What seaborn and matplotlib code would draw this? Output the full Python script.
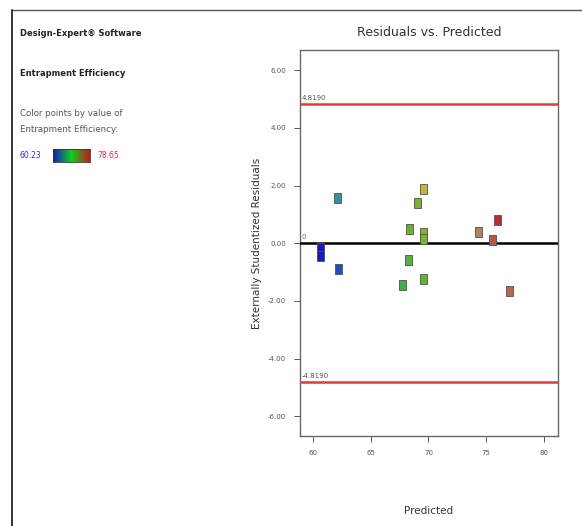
import numpy as np
import pandas as pd
import matplotlib
matplotlib.use("Agg")
import matplotlib.pyplot as plt
import seaborn as sns
from matplotlib.colors import LinearSegmentedColormap, Normalize
from matplotlib.lines import Line2D
from matplotlib.path import Path

# values
predicted = [60.63, 60.63, 62.10, 62.23, 67.74, 68.30, 68.37, 69.04,
             69.60, 69.60, 69.60, 69.60, 74.30, 75.56, 75.94, 77.00]
residuals = [-0.15, -0.45, 1.58, -0.88, -1.44, -0.59, 0.51, 1.38,
             1.88, 0.35, 0.15, -1.23, 0.39, 0.10, 0.80, -1.66]
actual = [60.30, 60.23, 63.60, 61.60, 66.80, 67.80, 68.60, 69.40,
          72.00, 69.80, 69.60, 68.40, 75.00, 76.80, 78.65, 76.20]
limit = 4.8190
eff_min, eff_max = 60.23, 78.65
x_ticks = [60, 65, 70, 75, 80]
y_ticks = [-6, -4, -2, 0, 2, 4, 6]

df = pd.DataFrame({"Predicted": predicted, "Residual": residuals, "Actual": actual})

sns.set_style("white")
plt.rcParams['font.family'] = ['DejaVu Sans']

cmap = LinearSegmentedColormap.from_list(
    "de", ["#1818c0", "#3a8ab8", "#38b048", "#7cb030", "#c8b848", "#b07858", "#c02a2a"])
norm = Normalize(eff_min, eff_max)

# tall rectangle marker like Design-Expert
rect = Path([(-0.7, -1), (0.7, -1), (0.7, 1), (-0.7, 1), (-0.7, -1)], closed=True)

fig = plt.figure(figsize=(5.82, 5.26), dpi=100)
ax = fig.add_axes([0.5155, 0.1711, 0.4433, 0.7338])

sns.scatterplot(data=df, x="Predicted", y="Residual", hue="Actual", palette=cmap,
                hue_norm=norm, marker=rect, s=52, edgecolor="#505050", linewidth=0.6,
                legend=False, ax=ax, zorder=5)

ax.axhline(0, color="black", lw=1.8, zorder=3)
ax.axhline(limit, color="#e03a3a", lw=1.8, zorder=3)
ax.axhline(-limit, color="#e03a3a", lw=1.8, zorder=3)
ax.text(59.05, limit + 0.15, f"{limit:.4f}", fontsize=5, color="#555555")
ax.text(59.05, -limit + 0.15, f"{-limit:.4f}", fontsize=5, color="#555555")
ax.text(59.05, 0.15, "0", fontsize=5, color="#777777")

ax.set_xlim(58.9, 81.2)
ax.set_ylim(-6.68, 6.7)
ax.set_xticks(x_ticks)
ax.set_xticklabels([str(t) for t in x_ticks])
ax.set_yticks(y_ticks)
ax.set_yticklabels([f"{t:.2f}" for t in y_ticks])
ax.tick_params(axis="both", direction="out", length=4, width=0.7, colors="#555555",
               labelsize=5, pad=6, bottom=True, left=True)
for s in ax.spines.values():
    s.set_color("#666666")
    s.set_linewidth(1.0)

ax.set_title("Residuals vs. Predicted", fontsize=9, color="#333333", pad=10)
ax.set_xlabel("Predicted", fontsize=7.5, color="#333333", labelpad=36)
ax.set_ylabel("Externally Studentized Residuals", fontsize=7.5, color="#333333", labelpad=4)

# left info panel
fig.text(20 / 582, 1 - 33 / 526, "Design-Expert\u00ae Software", fontsize=6,
         fontweight="bold", color="#222222", va="center")
fig.text(20 / 582, 1 - 73 / 526, "Entrapment Efficiency", fontsize=6,
         fontweight="bold", color="#222222", va="center")
fig.text(20 / 582, 1 - 113 / 526, "Color points by value of", fontsize=6.2,
         color="#555555", va="center")
fig.text(20 / 582, 1 - 130 / 526, "Entrapment Efficiency:", fontsize=6.2,
         color="#555555", va="center")
fig.text(20 / 582, 1 - 155 / 526, f"{eff_min:.2f}", fontsize=5.5, color="#3030e0", va="center")
fig.text(97 / 582, 1 - 155 / 526, f"{eff_max:.2f}", fontsize=5.5, color="#e03030", va="center")
cax = fig.add_axes([53 / 582, 1 - 162 / 526, 37 / 582, 13 / 526])
bar_cmap = LinearSegmentedColormap.from_list("bar", ["#1818c0", "#10d020", "#c01818"])
cax.imshow(np.linspace(0, 1, 100)[None, :], aspect="auto", cmap=bar_cmap)
cax.set_xticks([])
cax.set_yticks([])
for s in cax.spines.values():
    s.set_color("#333333")
    s.set_linewidth(0.6)

# frame lines of the screenshot
fig.add_artist(Line2D([12 / 582, 1], [1 - 10 / 526, 1 - 10 / 526], color="#555555", lw=1.0))
fig.add_artist(Line2D([12 / 582, 12 / 582], [1 - 10 / 526, 0], color="#111111", lw=1.2))

fig.savefig("out.png", dpi=100)
